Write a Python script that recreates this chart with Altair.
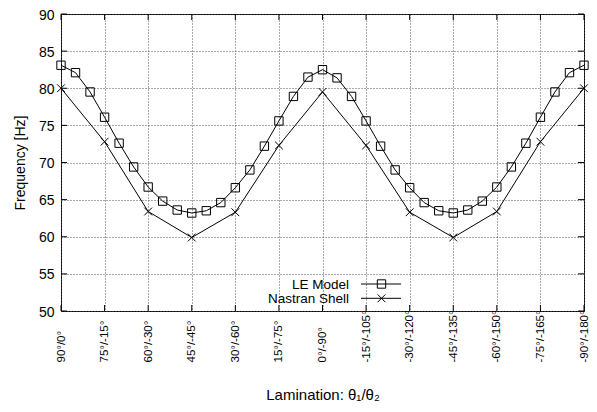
import altair as alt
import pandas as pd

# ---- data ----
le_theta1 = [90, 85, 80, 75, 70, 65, 60, 55, 50, 45, 40, 35, 30, 25, 20, 15, 10, 5, 0,
             -5, -10, -15, -20, -25, -30, -35, -40, -45, -50, -55, -60, -65, -70, -75, -80, -85, -90]
le_freq = [83.1, 82.1, 79.5, 76.1, 72.6, 69.4, 66.7, 64.8, 63.6, 63.2, 63.5, 64.6, 66.6,
           69.0, 72.2, 75.6, 78.9, 81.5, 82.5, 81.4, 78.9, 75.6, 72.2, 69.0, 66.6, 64.6,
           63.5, 63.2, 63.6, 64.8, 66.7, 69.4, 72.6, 76.1, 79.5, 82.1, 83.1]

nastran_theta1 = [90, 75, 60, 45, 30, 15, 0, -15, -30, -45, -60, -75, -90]
nastran_freq = [80.0, 72.8, 63.4, 59.9, 63.3, 72.3, 79.5, 72.3, 63.3, 59.9, 63.4, 72.8, 80.0]

tick_theta1 = [90, 75, 60, 45, 30, 15, 0, -15, -30, -45, -60, -75, -90]
tick_labels = ["90°/0°", "75°/-15°", "60°/-30°", "45°/-45°", "30°/-60°", "15°/-75°", "0°/-90°",
               "-15°/-105°", "-30°/-120°", "-45°/-135°", "-60°/-150°", "-75°/-165°", "-90°/-180°"]
y_ticks = [50, 55, 60, 65, 70, 75, 80, 85, 90]

series_names = ["LE Model", "Nastran Shell"]

# ---- layout ----
W, H = 523, 297
PAD_L, PAD_T, PAD_R, PAD_B = 53, 6, 5, 91
FONT = "Liberation Sans"
CROSS = "M-1,-1L1,1M-1,1L1,-1"

le_df = pd.DataFrame({"theta1": le_theta1, "freq": le_freq})
na_df = pd.DataFrame({"theta1": nastran_theta1, "freq": nastran_freq})
xt_df = pd.DataFrame({"theta1": tick_theta1})
yt_df = pd.DataFrame({"freq": y_ticks})

label_expr = " : ".join(
    f"datum.value == {t} ? '{l}'" for t, l in zip(tick_theta1, tick_labels)
) + " : ''"

x_scale = alt.Scale(domain=[-90, 90], reverse=True, nice=False, zero=False)
y_scale = alt.Scale(domain=[50, 90], nice=False, zero=False)

x_axis = alt.Axis(
    values=tick_theta1, labelExpr=label_expr, labelAngle=270, labelAlign="left",
    labelBaseline="middle", labelPadding=51, labelFlush=False, labelOverlap=False,
    labelFont=FONT, labelFontSize=11.5, labelColor="black",
    ticks=False, tickSize=0, domain=False,
    grid=True, gridColor="#555555", gridDash=[1, 2], gridWidth=1, gridOpacity=1,
    title="Lamination: θ₁/θ₂", titleFont=FONT, titleFontSize=15, titleFontWeight="normal",
    titleColor="black", titleX=W / 2, titleY=88, titleAlign="center", titleBaseline="alphabetic",
)
y_axis = alt.Axis(
    values=y_ticks, labelFont=FONT, labelFontSize=14, labelColor="black", labelPadding=7,
    labelOffset=1,
    ticks=False, tickSize=0, domain=False,
    grid=True, gridColor="#555555", gridDash=[1, 2], gridWidth=1, gridOpacity=1,
    title="Frequency [Hz]", titleFont=FONT, titleFontSize=14, titleFontWeight="normal",
    titleColor="black", titleAngle=270, titleX=-41, titleY=H / 2,
    titleAlign="center", titleBaseline="middle",
)

X = alt.X("theta1:Q", scale=x_scale, axis=x_axis)
Y = alt.Y("freq:Q", scale=y_scale, axis=y_axis)

le_line = alt.Chart(le_df).mark_line(color="black", strokeWidth=1).encode(x=X, y=Y)
le_pts = alt.Chart(le_df).mark_point(shape="square", filled=False, size=70, color="black",
                                     strokeWidth=1, opacity=1).encode(x=X, y=Y)
na_line = alt.Chart(na_df).mark_line(color="black", strokeWidth=1).encode(x=X, y=Y)
na_pts = alt.Chart(na_df).mark_point(shape=CROSS, filled=False, size=60, color="black",
                                     strokeWidth=1, opacity=1).encode(x=X, y=Y)

# inward (mirrored) ticks, as gnuplot draws them
TL = 6
tick_bot = alt.Chart(xt_df).mark_rule(color="black", strokeWidth=1).encode(
    x=X, y=alt.value(H), y2=alt.value(H - TL))
tick_top = alt.Chart(xt_df).mark_rule(color="black", strokeWidth=1).encode(
    x=X, y=alt.value(0), y2=alt.value(TL))
tick_left = alt.Chart(yt_df).mark_rule(color="black", strokeWidth=1).encode(
    y=Y, x=alt.value(0), x2=alt.value(TL))
tick_right = alt.Chart(yt_df).mark_rule(color="black", strokeWidth=1).encode(
    y=Y, x=alt.value(W), x2=alt.value(W - TL))

# legend (inside plot, gnuplot style: label left, sample right)
leg_df = pd.DataFrame({"name": series_names})
LX_TEXT, LX0, LX1, LXS = 288, 300, 340, 320.5
LY = [270, 284.3]

def legend_row(i, shape, size):
    d = leg_df.iloc[[i]]
    txt = alt.Chart(d).mark_text(align="right", baseline="middle", font=FONT, fontSize=13.5,
                                 color="black", dy=1).encode(
        x=alt.value(LX_TEXT), y=alt.value(LY[i]), text="name:N")
    ln = alt.Chart(d).mark_rule(color="black", strokeWidth=1).encode(
        x=alt.value(LX0), x2=alt.value(LX1), y=alt.value(LY[i]))
    pt = alt.Chart(d).mark_point(shape=shape, filled=False, size=size, color="black",
                                 strokeWidth=1, opacity=1).encode(
        x=alt.value(LXS), y=alt.value(LY[i]))
    return [txt, ln, pt]

layers = [le_line, na_line, le_pts, na_pts, tick_bot, tick_top, tick_left, tick_right]
layers += legend_row(0, "square", 70)
layers += legend_row(1, CROSS, 60)

chart = alt.layer(*layers).properties(
    width=W, height=H,
    autosize=alt.AutoSizeParams(type="none"),
    padding={"left": PAD_L, "top": PAD_T, "right": PAD_R, "bottom": PAD_B},
    background="white",
).configure(
    font=FONT,
    view=alt.ViewConfig(stroke="black", strokeWidth=1),
)

chart.save("out.html", embed_options={"renderer": "svg", "actions": False})
